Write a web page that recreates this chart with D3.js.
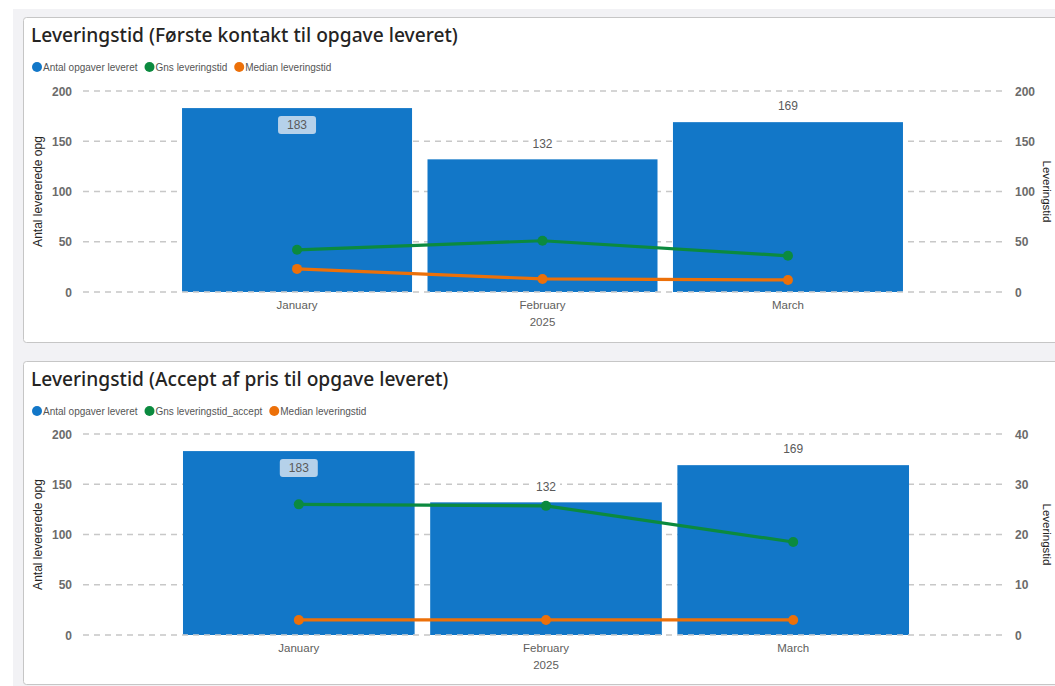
<!DOCTYPE html>
<html>
<head>
<meta charset="utf-8">
<script src="https://cdn.jsdelivr.net/npm/d3@7"></script>
<style>
  html, body { margin: 0; padding: 0; background: #ffffff; }
  svg { display: block; }
  .narrow { font-family: "Liberation Sans Narrow", "Arial Narrow", "Liberation Sans", sans-serif; }
</style>
</head>
<body>
<svg id="chart" width="1055" height="686"></svg>
<script>
// ---------- DATA ----------
const months = ["January", "February", "March"];
const yearLabel = "2025";

const topTitle = "Leveringstid (Første kontakt til opgave leveret)";
const topSeriesNames = ["Antal opgaver leveret", "Gns leveringstid", "Median leveringstid"];
const topCounts = [183, 132, 169];
const topAvg = [42, 51, 36];
const topMedian = [23, 13, 12];
const topLeftTicks = [0, 50, 100, 150, 200];
const topRightTicks = [0, 50, 100, 150, 200];

const bottomTitle = "Leveringstid (Accept af pris til opgave leveret)";
const bottomSeriesNames = ["Antal opgaver leveret", "Gns leveringstid_accept", "Median leveringstid"];
const bottomCounts = [183, 132, 169];
const bottomAvg = [26, 25.7, 18.5];
const bottomMedian = [3, 3, 3];
const bottomLeftTicks = [0, 50, 100, 150, 200];
const bottomRightTicks = [0, 10, 20, 30, 40];

const leftAxisTitle = "Antal levererede opg";
const rightAxisTitle = "Leveringstid";

// ---------- STYLE ----------
const colBar = "#1277c8";
const colAvg = "#0b8a3f";
const colMed = "#ec7009";
const colGrid = "#c8c8c8";
const colTick = "#6b6b6b";

const svg = d3.select("#chart");

// page background
svg.append("rect").attr("x", 13).attr("y", 9).attr("width", 1042).attr("height", 677).attr("fill", "#f2f2f5");

function drawPanel(cfg) {
  const g = svg.append("g");
  // panel card
  g.append("rect")
    .attr("x", 23.5).attr("y", cfg.panelTop + 0.5)
    .attr("width", 1060).attr("height", cfg.panelHeight)
    .attr("rx", 3)
    .attr("fill", "#ffffff").attr("stroke", "#c6c6c6").attr("stroke-width", 1);

  // title
  g.append("text")
    .attr("x", 31).attr("y", cfg.panelTop + 25)
    .attr("font-family", "'Segoe UI', 'Noto Sans', 'Open Sans', sans-serif")
    .attr("font-size", 19.2).attr("font-weight", 500)
    .attr("fill", "#252423")
    .text(cfg.title);

  // legend
  const legendColors = [colBar, cfg.avgColor, colMed];
  let lx = 37;
  const ly = cfg.panelTop + 50;
  cfg.seriesNames.forEach((name, i) => {
    g.append("circle").attr("cx", lx).attr("cy", ly).attr("r", 5).attr("fill", legendColors[i]);
    const t = g.append("text").attr("class", "narrow")
      .attr("x", lx + 6).attr("y", ly + 3.5)
      .attr("font-size", 10).attr("fill", "#555")
      .text(name);
    const w = t.node().getComputedTextLength();
    lx += 6 + w + 12;
  });

  // scales
  const yLeft = d3.scaleLinear().domain([0, 200]).range([cfg.y0, cfg.y200]);
  const yRight = d3.scaleLinear().domain([0, cfg.rightMax]).range([cfg.y0, cfg.y200]);
  const x = d3.scaleBand().domain(months)
    .range(cfg.xRange).paddingInner(0.063).paddingOuter(0.0315);

  // gridlines (behind bars)
  const gridG = g.append("g");
  cfg.leftTicks.forEach(t => {
    gridG.append("line")
      .attr("x1", 83).attr("x2", 1005)
      .attr("y1", yLeft(t)).attr("y2", yLeft(t))
      .attr("stroke", colGrid).attr("stroke-width", 1.6)
      .attr("stroke-dasharray", "6,5");
  });

  // left axis labels
  const leftAxis = d3.axisLeft(yLeft).tickValues(cfg.leftTicks).tickSize(0).tickPadding(0);
  const la = g.append("g").attr("transform", "translate(72,0)").call(leftAxis);
  la.select(".domain").remove();
  la.selectAll("text").attr("class", "narrow")
    .attr("font-size", 12).attr("font-weight", 700).attr("fill", colTick).attr("dy", "0.35em");

  // right axis labels
  const rightAxis = d3.axisRight(yRight).tickValues(cfg.rightTicks).tickSize(0).tickPadding(0);
  const ra = g.append("g").attr("transform", "translate(1015,0)").call(rightAxis);
  ra.select(".domain").remove();
  ra.selectAll("text").attr("class", "narrow")
    .attr("font-size", 12).attr("font-weight", 700).attr("fill", colTick).attr("dy", "0.35em");

  // axis titles
  const midY = (cfg.y0 + cfg.y200) / 2;
  g.append("text").attr("class", "narrow")
    .attr("transform", `translate(42,${midY}) rotate(-90)`)
    .attr("text-anchor", "middle").attr("font-size", 12).attr("fill", "#252423")
    .text(leftAxisTitle);
  g.append("text").attr("class", "narrow")
    .attr("transform", `translate(1043,${midY}) rotate(90)`)
    .attr("text-anchor", "middle").attr("font-size", 11.5).attr("fill", "#252423")
    .text(rightAxisTitle);

  // bars
  g.append("g").selectAll("rect").data(cfg.counts).join("rect")
    .attr("x", (d, i) => x(months[i]))
    .attr("width", x.bandwidth())
    .attr("y", d => yLeft(d))
    .attr("height", d => yLeft(0) - yLeft(d))
    .attr("fill", colBar);

  // zero line over bars
  g.append("line")
    .attr("x1", 83).attr("x2", 1005)
    .attr("y1", yLeft(0)).attr("y2", yLeft(0))
    .attr("stroke", "#d4d4d4").attr("stroke-width", 1.4)
    .attr("stroke-dasharray", "6,5");

  // bar value labels
  const topLimit = yLeft(200);
  cfg.counts.forEach((d, i) => {
    const cx = x(months[i]) + x.bandwidth() / 2;
    const inside = yLeft(d) - 22 < topLimit;
    const cy = inside ? yLeft(d) + 17 : yLeft(d) - 16;
    if (inside) {
      g.append("rect")
        .attr("x", cx - 19).attr("y", cy - 9).attr("width", 38).attr("height", 18)
        .attr("rx", 3).attr("fill", "#b5d1ea");
    } else {
      g.append("rect")
        .attr("x", cx - 14).attr("y", cy - 8).attr("width", 28).attr("height", 16)
        .attr("fill", "#ffffff");
    }
    g.append("text")
      .attr("x", cx).attr("y", cy).attr("dy", "0.36em")
      .attr("text-anchor", "middle")
      .attr("font-family", "'Liberation Sans', Arial, sans-serif")
      .attr("font-size", 12).attr("fill", "#5a5a5a")
      .text(d);
  });

  // lines
  const line = d3.line()
    .x((d, i) => x(months[i]) + x.bandwidth() / 2)
    .y(d => yRight(d));

  [[cfg.avg, cfg.avgColor], [cfg.median, colMed]].forEach(([vals, col]) => {
    g.append("path").datum(vals)
      .attr("d", line).attr("fill", "none")
      .attr("stroke", col).attr("stroke-width", 3.2)
      .attr("stroke-linejoin", "round");
    g.append("g").selectAll("circle").data(vals).join("circle")
      .attr("cx", (d, i) => x(months[i]) + x.bandwidth() / 2)
      .attr("cy", d => yRight(d))
      .attr("r", 5).attr("fill", col);
  });

  // category labels
  months.forEach((m, i) => {
    const cx = x(m) + x.bandwidth() / 2;
    g.append("text").attr("class", "narrow")
      .attr("x", cx).attr("y", yLeft(0) + 17)
      .attr("text-anchor", "middle").attr("font-size", 11.5).attr("fill", "#605e5c")
      .text(m);
  });
  const midCx = x(months[1]) + x.bandwidth() / 2;
  g.append("text").attr("class", "narrow")
    .attr("x", midCx).attr("y", yLeft(0) + 34)
    .attr("text-anchor", "middle").attr("font-size", 11.5).attr("fill", "#605e5c")
    .text(yearLabel);
}

drawPanel({
  panelTop: 17, panelHeight: 325,
  title: topTitle, seriesNames: topSeriesNames,
  counts: topCounts, avg: topAvg, median: topMedian,
  leftTicks: topLeftTicks, rightTicks: topRightTicks, rightMax: 200,
  y0: 292, y200: 91, xRange: [174.3, 910.7], avgColor: colAvg
});

drawPanel({
  panelTop: 361, panelHeight: 323,
  title: bottomTitle, seriesNames: bottomSeriesNames,
  counts: bottomCounts, avg: bottomAvg, median: bottomMedian,
  leftTicks: bottomLeftTicks, rightTicks: bottomRightTicks, rightMax: 40,
  y0: 635, y200: 434, xRange: [175.2, 916.8], avgColor: colAvg
});
</script>
</body>
</html>
